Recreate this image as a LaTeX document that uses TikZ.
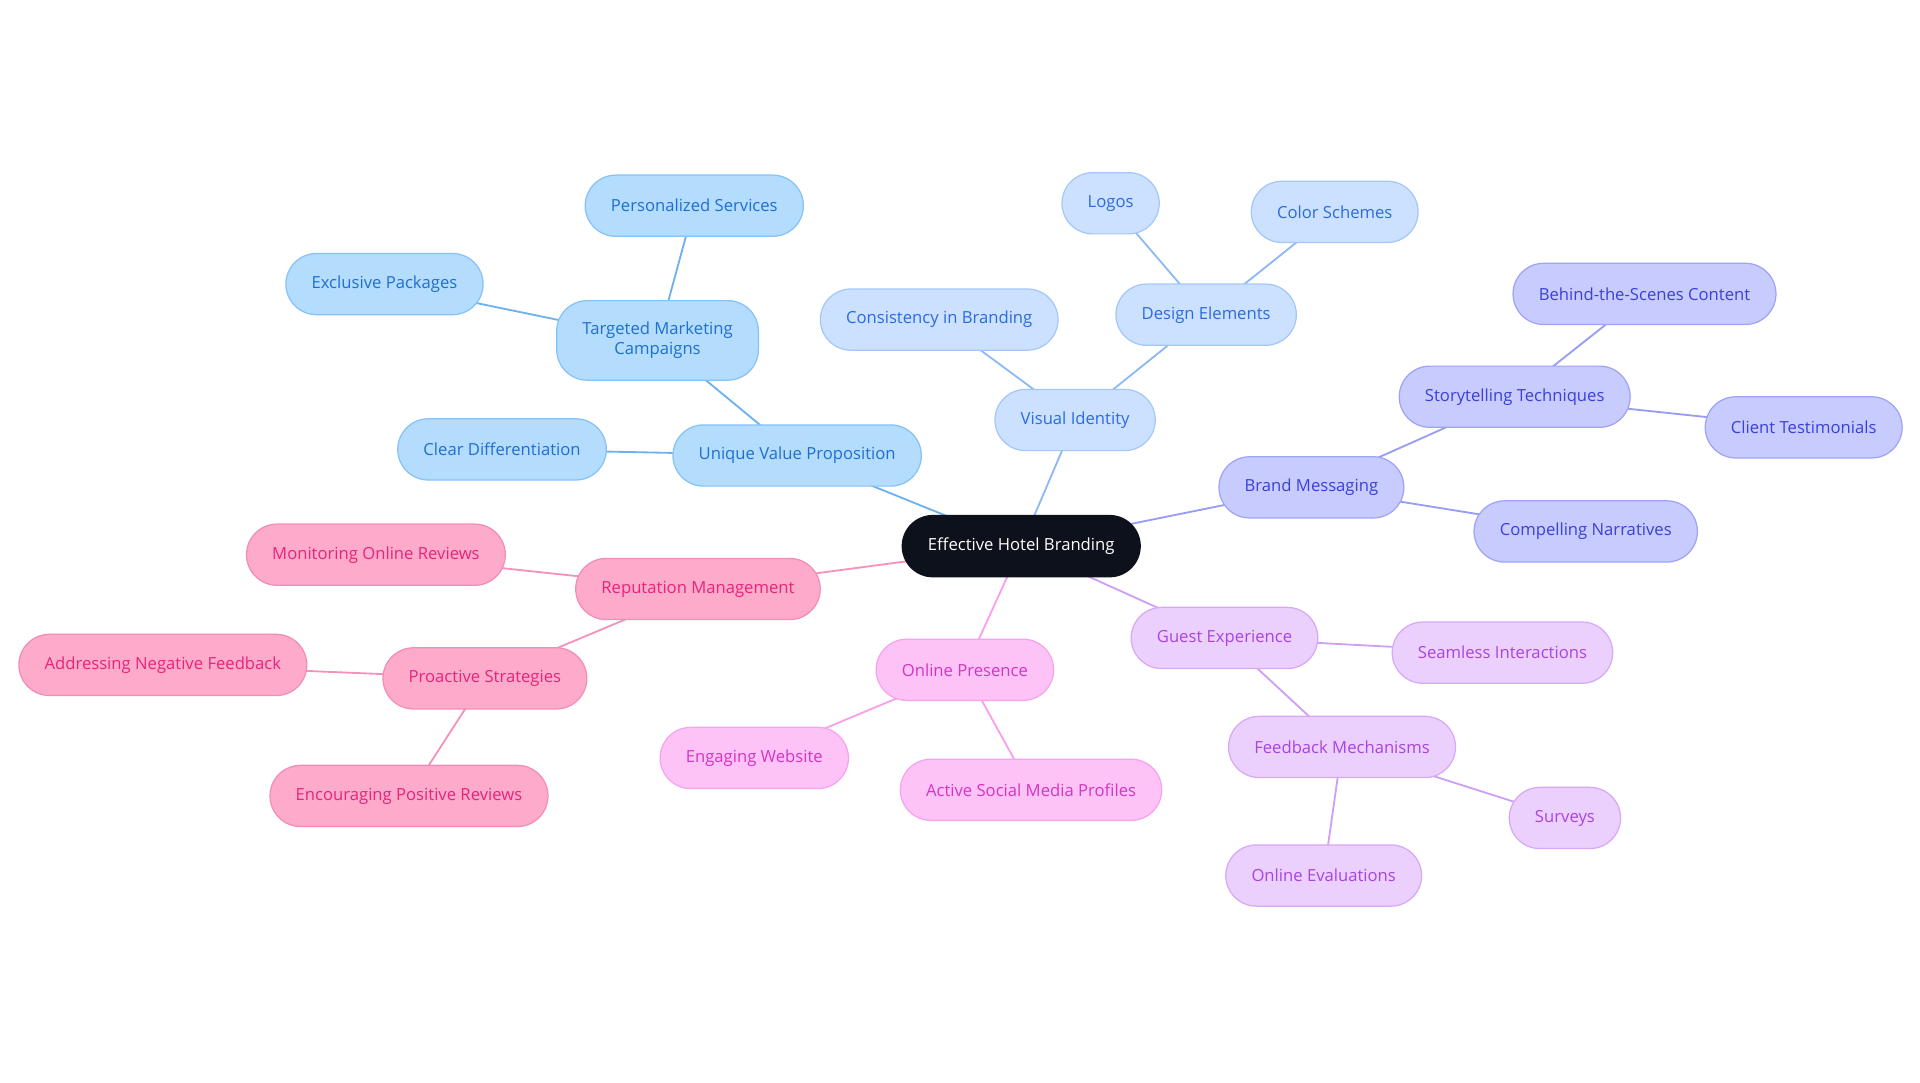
\documentclass[tikz,border=0pt]{standalone}
\usepackage{fontspec}
\setmainfont{Open Sans}
\usetikzlibrary{positioning, backgrounds, shapes}
\definecolor{rootfill}{HTML}{0D111C}
\definecolor{uvpfill}{HTML}{B3DCFD}\definecolor{uvpdraw}{HTML}{85C2F7}\definecolor{uvptext}{HTML}{1F6FD1}\definecolor{uvpline}{HTML}{6DB2EE}
\definecolor{visfill}{HTML}{CCE1FF}\definecolor{visdraw}{HTML}{A3C7FA}\definecolor{vistext}{HTML}{2A6BE0}\definecolor{visline}{HTML}{90B8F5}
\definecolor{msgfill}{HTML}{C8CBFD}\definecolor{msgdraw}{HTML}{9EA3F7}\definecolor{msgtext}{HTML}{3A40D8}\definecolor{msgline}{HTML}{979CF7}
\definecolor{gstfill}{HTML}{EBCFFD}\definecolor{gstdraw}{HTML}{D6A8F7}\definecolor{gsttext}{HTML}{A844E0}\definecolor{gstline}{HTML}{CF9FF6}
\definecolor{onlfill}{HTML}{FDC3F6}\definecolor{onldraw}{HTML}{F7A2EC}\definecolor{onltext}{HTML}{D633C2}\definecolor{onlline}{HTML}{F8A0EC}
\definecolor{repfill}{HTML}{FDAACB}\definecolor{repdraw}{HTML}{F48CB8}\definecolor{reptext}{HTML}{E8247A}\definecolor{repline}{HTML}{F592BB}
\tikzstyle{Topic} = [
%Pill shaped box for every idea:
rectangle, rounded corners = 25pt, minimum height = 50pt, inner xsep = 21pt,
line width = 1pt, align = center, font = \fontsize{13.6}{16}\selectfont
]
\begin{document}
\begin{tikzpicture}[x = 1pt, y = -1pt,
					      root/.style = {Topic, fill = rootfill, draw = rootfill, text = white},
					      uvp/.style = {Topic, fill = uvpfill, draw = uvpdraw, text = uvptext},
					      vis/.style = {Topic, fill = visfill, draw = visdraw, text = vistext},
					      msg/.style = {Topic, fill = msgfill, draw = msgdraw, text = msgtext},
					      gst/.style = {Topic, fill = gstfill, draw = gstdraw, text = gsttext},
					      onl/.style = {Topic, fill = onlfill, draw = onldraw, text = onltext},
					      rep/.style = {Topic, fill = repfill, draw = repdraw, text = reptext},
					      link/.style = {line width = 1.5pt},
				      ]
				      \useasboundingbox (0,0) rectangle (1568,884);
				      \node[root](Hotel) at (834,446){Effective Hotel Branding};

				      \node[uvp](UVP) at (651,372){Unique Value Proposition};
				      \node[uvp](Diff) at (410,367){Clear Differentiation};
				      \node[uvp, minimum height = 65pt](Campaigns) at (537,278){Targeted Marketing\\Campaigns};
				      \node[uvp](Personal) at (567,168){Personalized Services};
				      \node[uvp](Packages) at (314,232){Exclusive Packages};

				      \node[vis](Visual) at (878,343){Visual Identity};
				      \node[vis](Consistency) at (767,261){Consistency in Branding};
				      \node[vis](Design) at (985,257){Design Elements};
				      \node[vis](Logos) at (907,166){Logos};
				      \node[vis](Colors) at (1090,173){Color Schemes};

				      \node[msg](Messaging) at (1071,398){Brand Messaging};
				      \node[msg](Story) at (1237,324){Storytelling Techniques};
				      \node[msg](Scenes) at (1343,240){Behind-the-Scenes Content};
				      \node[msg](Testimonials) at (1473,349){Client Testimonials};
				      \node[msg](Narratives) at (1295,434){Compelling Narratives};

				      \node[gst](Guest) at (1000,521){Guest Experience};
				      \node[gst](Seamless) at (1227,533){Seamless Interactions};
				      \node[gst](Feedback) at (1096,610){Feedback Mechanisms};
				      \node[gst](Surveys) at (1278,668){Surveys};
				      \node[gst](Evaluations) at (1081,715){Online Evaluations};

				      \node[onl](Online) at (788,547){Online Presence};
				      \node[onl](Website) at (616,619){Engaging Website};
				      \node[onl](Social) at (842,645){Active Social Media Profiles};

				      \node[rep](Reputation) at (570,481){Reputation Management};
				      \node[rep](Monitoring) at (307,453){Monitoring Online Reviews};
				      \node[rep](Proactive) at (396,554){Proactive Strategies};
				      \node[rep](Negative) at (133,543){Addressing Negative Feedback};
				      \node[rep](Positive) at (334,650){Encouraging Positive Reviews};

				      \begin{scope}[on background layer]
				      \draw[link, uvpline](Hotel.center)--(UVP.center);
				      \draw[link, uvpline](UVP.center)--(Diff.center);
				      \draw[link, uvpline](UVP.center)--(Campaigns.center);
				      \draw[link, uvpline](Campaigns.center)--(Personal.center);
				      \draw[link, uvpline](Campaigns.center)--(Packages.center);
				      \draw[link, visline](Hotel.center)--(Visual.center);
				      \draw[link, visline](Visual.center)--(Consistency.center);
				      \draw[link, visline](Visual.center)--(Design.center);
				      \draw[link, visline](Design.center)--(Logos.center);
				      \draw[link, visline](Design.center)--(Colors.center);
				      \draw[link, msgline](Hotel.center)--(Messaging.center);
				      \draw[link, msgline](Messaging.center)--(Story.center);
				      \draw[link, msgline](Messaging.center)--(Narratives.center);
				      \draw[link, msgline](Story.center)--(Scenes.center);
				      \draw[link, msgline](Story.center)--(Testimonials.center);
				      \draw[link, gstline](Hotel.center)--(Guest.center);
				      \draw[link, gstline](Guest.center)--(Seamless.center);
				      \draw[link, gstline](Guest.center)--(Feedback.center);
				      \draw[link, gstline](Feedback.center)--(Surveys.center);
				      \draw[link, gstline](Feedback.center)--(Evaluations.center);
				      \draw[link, onlline](Hotel.center)--(Online.center);
				      \draw[link, onlline](Online.center)--(Website.center);
				      \draw[link, onlline](Online.center)--(Social.center);
				      \draw[link, repline](Hotel.center)--(Reputation.center);
				      \draw[link, repline](Reputation.center)--(Monitoring.center);
				      \draw[link, repline](Reputation.center)--(Proactive.center);
				      \draw[link, repline](Proactive.center)--(Negative.center);
				      \draw[link, repline](Proactive.center)--(Positive.center);
				      \end{scope}
			      \end{tikzpicture}
\end{document}
